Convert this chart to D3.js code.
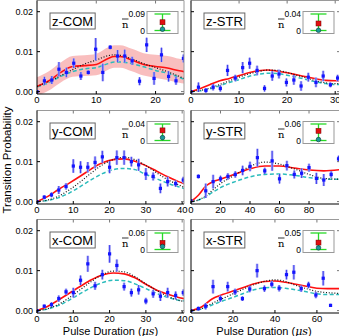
<!DOCTYPE html>
<html>
<head>
<meta charset="utf-8">
<script src="https://cdn.jsdelivr.net/npm/d3@7"></script>
<style>
  body { margin: 0; background: #fff; }
  svg { display: block; font-family: "Liberation Sans", Arial, sans-serif; }
</style>
</head>
<body>
<svg width="339" height="336"></svg>
<script>
// ---- z-COM ----
const zComT = [0, 1.25, 2.5, 3.7, 4.95, 6.2, 7.4, 8.65, 9.9, 11.1, 12.35, 13.6, 14.8, 16.05, 17.3, 18.5, 19.75, 21, 22.2, 23.45, 24.7];
const zComP = [0, 0.0027, 0.0029, 0.0056, 0.0048, 0.0071, 0.0039, 0.0048, 0.0106, 0.0048, 0.0111, 0.0089, 0.0089, 0.0077, 0.0026, 0.0117, 0.0033, 0.0092, 0.0038, 0.0027, 0.0083];
const zComErr = [0.0003, 0.001, 0.001, 0.0018, 0.0012, 0.0012, 0.001, 0.0005, 0.0028, 0.0022, 0.0005, 0.0015, 0.0016, 0.001, 0.001, 0.0018, 0.0016, 0.0018, 0.0013, 0.001, 0.001];
const zComCurveT = [0, 2, 4, 6, 8, 10, 12, 13, 14, 16, 18, 20, 22, 24, 24.8];
const zComRed = [0.0013, 0.0027, 0.0048, 0.0063, 0.0065, 0.0068, 0.0083, 0.0088, 0.0088, 0.0079, 0.0068, 0.0063, 0.0059, 0.0052, 0.005];
const zComBandHalf = [0.0023, 0.0024, 0.0025, 0.0026, 0.0026, 0.0027, 0.0028, 0.0028, 0.0028, 0.0028, 0.0028, 0.0029, 0.003, 0.003, 0.003];
const zComBlack = [0.0013, 0.0025, 0.004, 0.0055, 0.0069, 0.0079, 0.009, 0.0092, 0.0091, 0.0082, 0.007, 0.006, 0.005, 0.0038, 0.0033];
const zComCyan = [0.0012, 0.0022, 0.0038, 0.005, 0.0057, 0.006, 0.007, 0.0074, 0.0074, 0.007, 0.0062, 0.0053, 0.0046, 0.0036, 0.0031];

// ---- z-STR ----
const zStrT = [0, 1.55, 3.1, 4.6, 6.1, 7.6, 9.2, 10.75, 12.2, 13.75, 15.3, 16.9, 18.3, 19.85, 21.4, 22.9, 24.4, 26, 27.5, 29, 30.5];
const zStrP = [0, 0.0011, 0.0003, 0.0011, 0.0008, 0.0053, 0.0034, 0.006, 0.0071, 0.0053, 0.0008, 0.0039, 0.0044, 0.0023, 0.0029, 0.0014, 0.0036, 0.0023, 0.0039, 0.0017, 0.0034];
const zStrErr = [0.0003, 0.0012, 0.0006, 0.0008, 0.0008, 0.0014, 0.0008, 0.0014, 0.0014, 0.0012, 0.0008, 0.0012, 0.0011, 0.001, 0.0012, 0.0012, 0.0011, 0.0012, 0.0013, 0.0006, 0.0008];
const zStrCurveT = [0, 2, 4, 6, 8, 10, 12, 14, 16, 18, 20, 22, 24, 26, 28, 30, 31];
const zStrRed = [0, 0.0008, 0.0018, 0.0027, 0.0033, 0.004, 0.0047, 0.0052, 0.0054, 0.0051, 0.0047, 0.0042, 0.0037, 0.0032, 0.0028, 0.0027, 0.0027];
const zStrBlack = [0, 0.0003, 0.0009, 0.0018, 0.0027, 0.0036, 0.0044, 0.005, 0.0054, 0.0053, 0.0048, 0.0041, 0.0034, 0.0027, 0.0022, 0.002, 0.002];
const zStrCyan = [0, 0.0002, 0.0007, 0.0015, 0.0023, 0.003, 0.0038, 0.0043, 0.0046, 0.0045, 0.0041, 0.0036, 0.003, 0.0024, 0.002, 0.0018, 0.0018];

// ---- y-COM ----
const yComT = [0, 2, 4, 6, 8, 10, 12, 14, 16, 18, 20, 22, 24, 26, 28, 30, 32, 34, 36, 38.2, 40.3];
const yComP = [0, 0.0011, 0.0017, 0.0029, 0.0038, 0.0089, 0.0086, 0.0086, 0.0098, 0.0112, 0.0086, 0.011, 0.011, 0.01, 0.0092, 0.0069, 0.0063, 0.0033, 0.005, 0.0045, 0.0054];
const yComErr = [0.0003, 0.0005, 0.0006, 0.001, 0.0008, 0.0017, 0.0015, 0.0013, 0.0015, 0.0015, 0.0015, 0.0018, 0.0018, 0.0012, 0.0015, 0.0015, 0.001, 0.0012, 0.0012, 0.0008, 0.0008];
const yComCurveT = [0, 3, 6, 9, 12, 15, 18, 21, 24, 27, 30, 33, 36, 39, 40.5];
const yComRed = [0, 0.0013, 0.0031, 0.0047, 0.0064, 0.0082, 0.0097, 0.0105, 0.0107, 0.0101, 0.009, 0.0076, 0.0062, 0.005, 0.0045];
const yComBlack = [0, 0.0004, 0.0014, 0.003, 0.005, 0.0072, 0.0092, 0.0105, 0.0111, 0.0105, 0.009, 0.0072, 0.0055, 0.0042, 0.0036];
const yComCyan = [0, 0.0003, 0.001, 0.0022, 0.0038, 0.0055, 0.007, 0.008, 0.0083, 0.008, 0.0068, 0.0057, 0.0046, 0.0037, 0.0033];

// ---- y-STR ----
const yStrT = [0, 5, 10, 15, 20, 25, 30, 35, 40, 45, 50, 55, 60, 65, 70, 75, 80, 85, 90, 95, 100];
const yStrP = [0.0002, 0.0063, 0.0027, 0.005, 0.0057, 0.0063, 0.0068, 0.0078, 0.0088, 0.011, 0.0077, 0.0102, 0.0057, 0.009, 0.0068, 0.0071, 0.0085, 0.0058, 0.0054, 0.0068, 0.0107];
const yStrErr = [0.0003, 0.0005, 0.0018, 0.0017, 0.0008, 0.0008, 0.0008, 0.0012, 0.0012, 0.0022, 0.0008, 0.0025, 0.0012, 0.0012, 0.001, 0.0012, 0.001, 0.0014, 0.0015, 0.0008, 0.0008];
const yStrCurveT = [0, 5, 10, 15, 20, 30, 40, 50, 60, 70, 80, 90, 101];
const yStrRed = [0, 0.0016, 0.0039, 0.005, 0.0056, 0.0069, 0.0082, 0.0089, 0.0089, 0.0084, 0.0079, 0.0077, 0.008];
const yStrBlack = [0, 0.0004, 0.0014, 0.003, 0.0045, 0.0067, 0.0088, 0.0099, 0.0094, 0.0082, 0.0068, 0.0058, 0.0056];
const yStrCyan = [0, 0.0004, 0.0012, 0.0024, 0.0035, 0.005, 0.0062, 0.0068, 0.0069, 0.0066, 0.006, 0.0056, 0.0056];

// ---- x-COM ----
const xComT = [0, 2, 4, 6, 8, 10, 12, 14, 16, 18, 20, 22, 24, 26, 28, 30, 32, 34, 36, 38.2, 40.3];
const xComP = [0, 0.0011, 0.0015, 0.003, 0.0047, 0.0045, 0.0076, 0.0117, 0.0062, 0.009, 0.0142, 0.0113, 0.006, 0.0045, 0.0052, 0.0024, 0.0042, 0.0036, 0.0045, 0.0038, 0.0045];
const xComErr = [0.0003, 0.0004, 0.0006, 0.0008, 0.0008, 0.0012, 0.0012, 0.002, 0.001, 0.0012, 0.0022, 0.0015, 0.001, 0.001, 0.0012, 0.0008, 0.001, 0.0012, 0.0012, 0.001, 0.0008];
const xComCurveT = [0, 3, 6, 9, 12, 15, 18, 21, 24, 27, 30, 33, 36, 39, 40.5];
const xComRed = [0, 0.0011, 0.0027, 0.0044, 0.0061, 0.0077, 0.0089, 0.0094, 0.0092, 0.0082, 0.0066, 0.0051, 0.0041, 0.0033, 0.003];
const xComBlack = [0, 0.0005, 0.0016, 0.0033, 0.0053, 0.0073, 0.009, 0.0099, 0.0097, 0.0085, 0.0067, 0.005, 0.0036, 0.0026, 0.0023];
const xComCyan = [0, 0.0004, 0.0013, 0.0027, 0.0043, 0.0058, 0.007, 0.0076, 0.0075, 0.0067, 0.0055, 0.0043, 0.0033, 0.0026, 0.0024];

// ---- x-STR ----
const xStrT = [0, 3.5, 7, 10.5, 14, 17.5, 21, 24.5, 28, 31.5, 35, 38.5, 42, 45.5, 49, 52.5, 56, 59.5, 63, 66.5];
const xStrP = [0, 0.0005, 0.0011, 0.006, 0.003, 0.006, 0.0047, 0.003, 0.0054, 0.01, 0.0055, 0.0066, 0.0056, 0.009, 0.0096, 0.0055, 0.0064, 0.0039, 0.0081, 0.0013];
const xStrErr = [0.0003, 0.0005, 0.0008, 0.0017, 0.0008, 0.0012, 0.0008, 0.0006, 0.0008, 0.0017, 0.0008, 0.0008, 0.0008, 0.0012, 0.0018, 0.0008, 0.0008, 0.0008, 0.0018, 0.0004];
const xStrCurveT = [0, 5, 10, 15, 20, 25, 30, 35, 40, 45, 50, 55, 60, 65, 71];
const xStrRed = [0, 0.0009, 0.0029, 0.004, 0.0049, 0.0058, 0.0067, 0.0073, 0.0074, 0.0071, 0.0066, 0.0061, 0.0056, 0.0055, 0.0055];
const xStrBlack = [0, 0.0005, 0.0018, 0.003, 0.0042, 0.0054, 0.0065, 0.0073, 0.0077, 0.0073, 0.0063, 0.0055, 0.0048, 0.0045, 0.0043];
const xStrCyan = [0, 0.0004, 0.0014, 0.0024, 0.0033, 0.0043, 0.0052, 0.0057, 0.0058, 0.0056, 0.0052, 0.0047, 0.0042, 0.004, 0.004];

// inset (mean phonon number n-bar): range top, mean, lower marker
const insetMax = [0.09, 0.04, 0.04, 0.06, 0.06, 0.05];
const insetMean = [0.045, 0.017, 0.0245, 0.035, 0.024, 0.021];
const insetLow = [0.007, 0.0005, 0.007, 0.0035, 0.011, 0.005];

const panelNames = ['z-COM', 'z-STR', 'y-COM', 'y-STR', 'x-COM', 'x-STR'];
const xMaxes = [24.8, 31, 40.5, 101, 40.5, 71];
const xTickSets = [[0, 10, 20], [0, 10, 20, 30], [0, 10, 20, 30, 40], [0, 20, 40, 60, 80], [0, 10, 20, 30, 40], [0, 20, 40, 60]];
const yTicks = [0, 0.01, 0.02];

const panels = [
  { t: zComT, p: zComP, e: zComErr, ct: zComCurveT, red: zComRed, black: zComBlack, cyan: zComCyan, band: zComBandHalf },
  { t: zStrT, p: zStrP, e: zStrErr, ct: zStrCurveT, red: zStrRed, black: zStrBlack, cyan: zStrCyan },
  { t: yComT, p: yComP, e: yComErr, ct: yComCurveT, red: yComRed, black: yComBlack, cyan: yComCyan },
  { t: yStrT, p: yStrP, e: yStrErr, ct: yStrCurveT, red: yStrRed, black: yStrBlack, cyan: yStrCyan },
  { t: xComT, p: xComP, e: xComErr, ct: xComCurveT, red: xComRed, black: xComBlack, cyan: xComCyan },
  { t: xStrT, p: xStrP, e: xStrErr, ct: xStrCurveT, red: xStrRed, black: xStrBlack, cyan: xStrCyan }
];

const svg = d3.select('svg');
const colX = [[37, 184], [191, 340]];
const rowTop = [0.5, 110.5, 219.5];
const panelH = 93.5;

panels.forEach((d, i) => {
  const row = Math.floor(i / 2), col = i % 2;
  const [x0, x1] = colX[col];
  const top = rowTop[row], bottom = top + panelH;

  const xScale = d3.scaleLinear().domain([0, xMaxes[i]]).range([x0, x1]);
  const yScale = d3.scaleLinear().domain([-0.0006, 0.0228]).range([bottom, top]);

  const g = svg.append('g');
  const clipId = 'clip' + i;
  g.append('clipPath').attr('id', clipId)
    .append('rect').attr('x', x0).attr('y', top).attr('width', x1 - x0).attr('height', panelH);
  const plot = g.append('g').attr('clip-path', `url(#${clipId})`);

  const curvePts = arr => d.ct.map((t, k) => [t, arr[k]]);
  const line = d3.line().x(p => xScale(p[0])).y(p => yScale(p[1])).curve(d3.curveMonotoneX);

  if (d.band) {
    const area = d3.area()
      .x((t, k) => xScale(t))
      .y0((t, k) => yScale(d.red[k] - d.band[k]))
      .y1((t, k) => yScale(d.red[k] + d.band[k]))
      .curve(d3.curveMonotoneX);
    plot.append('path').attr('d', area(d.ct))
      .attr('fill', '#f7a8a8').attr('opacity', 0.75);
  }

  plot.append('path').attr('d', line(curvePts(d.cyan)))
    .attr('fill', 'none').attr('stroke', '#2bbcbc').attr('stroke-width', 1.5)
    .attr('stroke-dasharray', '4,2.5');
  plot.append('path').attr('d', line(curvePts(d.red)))
    .attr('fill', 'none').attr('stroke', '#ff1010').attr('stroke-width', 1.6);
  plot.append('path').attr('d', line(curvePts(d.black)))
    .attr('fill', 'none').attr('stroke', '#111').attr('stroke-width', 1.2)
    .attr('stroke-dasharray', '1,1.8');

  const pts = d.t.map((t, k) => ({ t, p: d.p[k], e: d.e[k] }));
  plot.selectAll('line.halo').data(pts).enter().append('line')
    .attr('x1', q => xScale(q.t)).attr('x2', q => xScale(q.t))
    .attr('y1', q => yScale(q.p - q.e)).attr('y2', q => yScale(q.p + q.e))
    .attr('stroke', '#aeaef5').attr('stroke-width', 2.6);
  plot.selectAll('line.err').data(pts).enter().append('line')
    .attr('x1', q => xScale(q.t)).attr('x2', q => xScale(q.t))
    .attr('y1', q => yScale(q.p - q.e)).attr('y2', q => yScale(q.p + q.e))
    .attr('stroke', '#3030f0').attr('stroke-width', 0.9);
  plot.selectAll('rect.pt').data(pts).enter().append('rect')
    .attr('x', q => xScale(q.t) - 1.6).attr('y', q => yScale(q.p) - 1.6)
    .attr('width', 3.2).attr('height', 3.2).attr('fill', '#1515ff');

  // frame
  g.append('line').attr('x1', x0).attr('x2', x1).attr('y1', top).attr('y2', top).attr('stroke', '#9a9a9a');
  g.append('line').attr('x1', x1).attr('x2', x1).attr('y1', top).attr('y2', bottom).attr('stroke', '#9a9a9a');
  g.append('line').attr('x1', x0).attr('x2', x1).attr('y1', bottom).attr('y2', bottom).attr('stroke', '#000');
  g.append('line').attr('x1', x0).attr('x2', x0).attr('y1', top).attr('y2', bottom).attr('stroke', '#000');

  // ticks (inward)
  xTickSets[i].forEach(v => {
    g.append('line').attr('x1', xScale(v)).attr('x2', xScale(v)).attr('y1', bottom).attr('y2', bottom - 3).attr('stroke', '#000');
    g.append('line').attr('x1', xScale(v)).attr('x2', xScale(v)).attr('y1', top).attr('y2', top + 3).attr('stroke', '#777');
    g.append('text').attr('x', xScale(v)).attr('y', bottom + 9)
      .attr('text-anchor', 'middle').attr('font-size', 9.5).text(v);
  });
  yTicks.forEach(v => {
    g.append('line').attr('x1', x0).attr('x2', x0 + 3).attr('y1', yScale(v)).attr('y2', yScale(v)).attr('stroke', '#000');
    g.append('line').attr('x1', x1).attr('x2', x1 - 3).attr('y1', yScale(v)).attr('y2', yScale(v)).attr('stroke', '#777');
    if (col === 0) {
      g.append('text').attr('x', x0 - 4).attr('y', yScale(v) + 3.2)
        .attr('text-anchor', 'end').attr('font-size', 9).text(d3.format('.2f')(v));
    }
  });

  // tag box
  const tag = g.append('text').attr('x', x0 + 15).attr('y', top + 25.5)
    .attr('font-size', 13).text(panelNames[i]);
  const bb = tag.node().getBBox();
  g.insert('rect', 'text').attr('x', bb.x - 2).attr('y', top + 12.5)
    .attr('width', bb.width + 4).attr('height', 16)
    .attr('fill', '#fff').attr('stroke', '#666').attr('stroke-width', 1);
  tag.raise();

  // inset
  const bx = (col === 0 ? 184 : 340) - 37;
  const bw = 31;
  const iScale = d3.scaleLinear().domain([0, insetMax[i]]).range([top + 30, top + 13.5]);
  g.append('rect').attr('x', bx).attr('y', top + 11).attr('width', bw).attr('height', 22)
    .attr('fill', '#fff').attr('stroke', '#999');
  const cx = bx + bw / 2;
  g.append('line').attr('x1', cx).attr('x2', cx).attr('y1', iScale(0)).attr('y2', iScale(insetMax[i]))
    .attr('stroke', '#27d827').attr('stroke-width', 1.3);
  [0, insetMax[i]].forEach(v => {
    g.append('line').attr('x1', cx - 8).attr('x2', cx + 8).attr('y1', iScale(v)).attr('y2', iScale(v))
      .attr('stroke', '#27d827').attr('stroke-width', 1.3);
    g.append('text').attr('x', bx - 2).attr('y', iScale(v) + 3)
      .attr('text-anchor', 'end').attr('font-size', 8.5).text(v);
  });
  g.append('rect').attr('x', cx - 2.5).attr('y', iScale(insetMean[i]) - 2.5)
    .attr('width', 5).attr('height', 5).attr('fill', '#e01010').attr('stroke', '#700').attr('stroke-width', 0.5);
  g.append('circle').attr('cx', cx).attr('cy', iScale(insetLow[i])).attr('r', 2.3)
    .attr('fill', '#1a9a9a').attr('stroke', '#033').attr('stroke-width', 0.6);

  // n-bar
  const nx = bx - 25;
  g.append('text').attr('x', nx).attr('y', top + 27)
    .attr('font-family', '"DejaVu Serif", serif').attr('font-size', 10).text('n');
  g.append('line').attr('x1', nx).attr('x2', nx + 6.5).attr('y1', top + 18.5).attr('y2', top + 18.5)
    .attr('stroke', '#000').attr('stroke-width', 0.8);
});

// axis titles
svg.append('text')
  .attr('transform', 'translate(11,160) rotate(-90)')
  .attr('text-anchor', 'middle').attr('font-size', 11.5)
  .text('Transition Probability');

[[110.5, 334.5], [264, 334.5]].forEach(([x, y]) => {
  const t = svg.append('text').attr('x', x).attr('y', y)
    .attr('text-anchor', 'middle').attr('font-size', 11);
  t.append('tspan').text('Pulse Duration (');
  t.append('tspan').attr('font-family', '"DejaVu Serif", serif').attr('font-style', 'italic').text('μs');
  t.append('tspan').text(')');
});
</script>
</body>
</html>
